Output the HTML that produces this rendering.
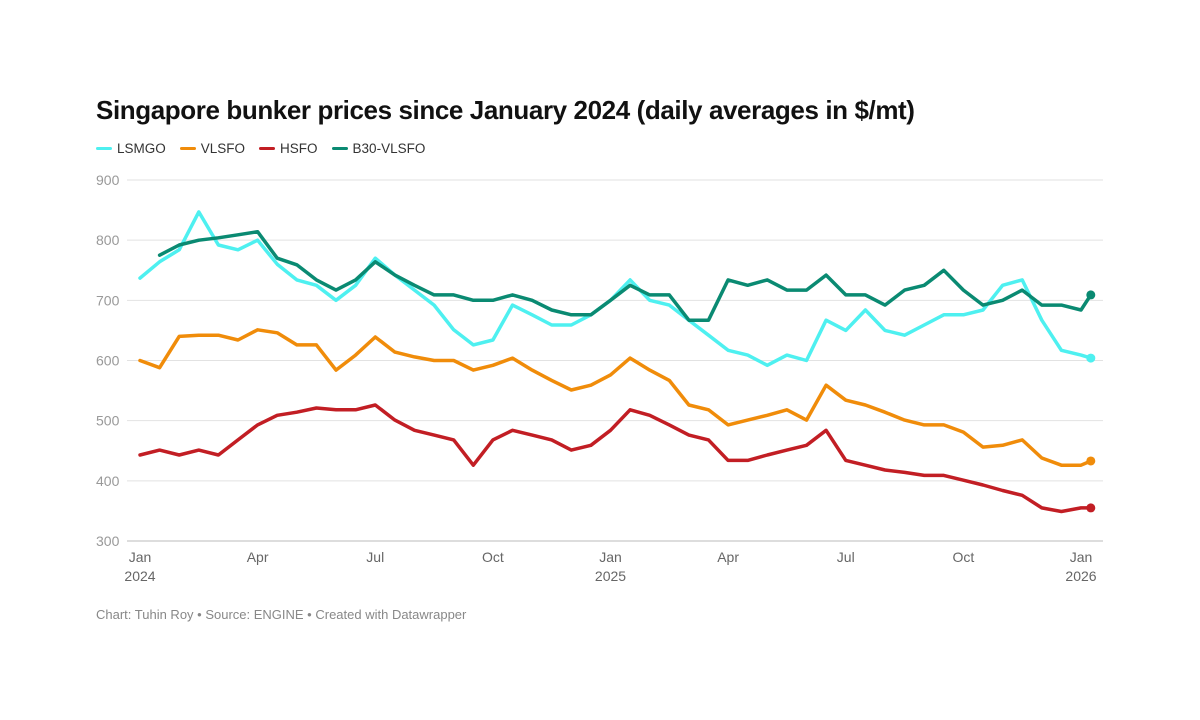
<!DOCTYPE html>
<html><head><meta charset="utf-8"><style>
body{margin:0;background:#fff;font-family:"Liberation Sans",sans-serif}
#wrap{position:relative;width:1200px;height:720px}
.title{position:absolute;left:96px;top:95px;font-size:26px;font-weight:bold;color:#111;letter-spacing:-0.4px}
.legend{position:absolute;left:96px;top:141px;font-size:13.5px;color:#333;display:flex;gap:14px}
.legend span{display:flex;align-items:center}
.legend i{display:inline-block;width:16px;height:3px;margin-right:5px;border-radius:2px}
.foot{position:absolute;left:96px;top:607px;font-size:13px;color:#888}
</style></head><body>
<div id="wrap">
<div class="title">Singapore bunker prices since January 2024 (daily averages in $/mt)</div>
<div class="legend">
<span><i style="background:#4ef0f0"></i>LSMGO</span>
<span><i style="background:#f08c0a"></i>VLSFO</span>
<span><i style="background:#c21e24"></i>HSFO</span>
<span><i style="background:#0a8a72"></i>B30-VLSFO</span>
</div>
<svg id="chart" width="1200" height="720" style="position:absolute;left:0;top:0"></svg>
<div class="foot">Chart: Tuhin Roy • Source: ENGINE • Created with Datawrapper</div>
</div>
<script>
const yTicks=[300,400,500,600,700,800,900];
const xTickLabels=["Jan|2024","Apr","Jul","Oct","Jan|2025","Apr","Jul","Oct","Jan|2026"];
const xTickMonths=[0,3,6,9,12,15,18,21,24];
const months=[0,0.5,1,1.5,2,2.5,3,3.5,4,4.5,5,5.5,6,6.5,7,7.5,8,8.5,9,9.5,10,10.5,11,11.5,12,12.5,13,13.5,14,14.5,15,15.5,16,16.5,17,17.5,18,18.5,19,19.5,20,20.5,21,21.5,22,22.5,23,23.5,24,24.25];
const lsmgo=[737,764,784,847,792,784,800,760,734,725,700,725,770,742,717,692,651,626,634,692,676,659,659,676,700,734,700,692,667,642,617,609,592,609,600,667,650,684,650,642,659,676,676,684,725,734,667,617,609,604];
const vlsfo=[600,588,640,642,642,634,651,646,626,626,584,609,639,614,606,600,600,584,592,604,584,567,551,559,576,604,584,567,526,518,493,501,509,518,501,559,534,526,514,501,493,493,481,456,459,468,438,426,426,433];
const hsfo=[443,451,443,451,443,468,493,509,514,521,518,518,526,501,484,476,468,426,468,484,476,468,451,459,484,518,509,493,476,468,434,434,443,451,459,484,434,426,418,414,409,409,401,393,384,376,355,349,355,355];
const b30=[null,775,792,800,804,809,814,770,759,734,717,734,764,742,725,709,709,700,700,709,700,684,676,676,700,725,709,709,667,667,734,725,734,717,717,742,709,709,692,717,725,750,717,692,700,717,692,692,684,709];
const NS="http://www.w3.org/2000/svg";
const svg=document.getElementById('chart');
const x=m=>140+m*(941/24);
const y=v=>541-(v-300)*(361/600);
function mk(t,a){const e=document.createElementNS(NS,t);for(const k in a)e.setAttribute(k,a[k]);svg.appendChild(e);return e;}
yTicks.forEach(v=>{
  const l=mk('line',{x1:127,x2:1103,y1:y(v),y2:y(v),stroke:v===300?'#bbb':'#e2e2e2','stroke-width':1});
  
  
  const t=mk('text',{x:96,y:y(v)+5,'font-size':14,fill:'#999','font-family':'Liberation Sans, sans-serif'});
  t.textContent=v;
  
  
});
xTickLabels.forEach((s,i)=>{
  const parts=s.split('|');
  const t=mk('text',{x:x(xTickMonths[i]),y:562,'font-size':14,fill:'#666','text-anchor':'middle','font-family':'Liberation Sans, sans-serif'});
  
  
  parts.forEach((p,j)=>{const ts=document.createElementNS(NS,'tspan');ts.setAttribute('x',x(xTickMonths[i]));ts.setAttribute('dy',j?19:0);ts.textContent=p;t.appendChild(ts);});
});
function series(arr,color,name){
  let d='';arr.forEach((v,i)=>{if(v==null)return;d+=(d?'L':'M')+x(months[i]).toFixed(1)+','+y(v).toFixed(1);});
  const p=mk('path',{d:d,fill:'none',stroke:color,'stroke-width':3.5,'stroke-linejoin':'round','stroke-linecap':'round'});
  
  
  const n=arr.length-1;
  const c=mk('circle',{cx:x(months[n]),cy:y(arr[n]),r:4.5,fill:color});
  
  
}
series(hsfo,'#c21e24','hsfo');
series(vlsfo,'#f08c0a','vlsfo');
series(lsmgo,'#4ef0f0','lsmgo');
series(b30,'#0a8a72','b30-vlsfo');
</script>
</body></html>
